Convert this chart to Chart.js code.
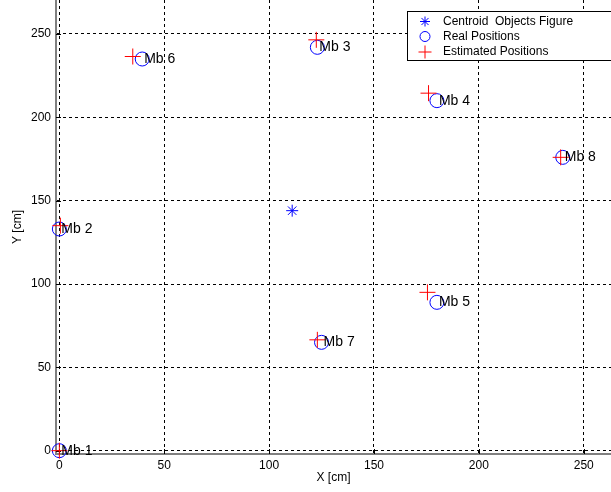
<!DOCTYPE html>
<html>
<head>
<meta charset="utf-8">
<script src="https://cdn.jsdelivr.net/npm/chart.js"></script>
<style>
  html, body { margin: 0; padding: 0; background: #fff; }
  #wrap { width: 611px; height: 492px; }
</style>
</head>
<body>
<div id="wrap"><canvas id="pos-chart" width="611" height="492"></canvas></div>
<script>
// tick values
const xTicks = [0, 50, 100, 150, 200, 250];
const yTicks = [0, 50, 100, 150, 200, 250];

// beacon names, real and estimated positions [cm]
const beacons = ['Mb 1', 'Mb 2', 'Mb 3', 'Mb 4', 'Mb 5', 'Mb 6', 'Mb 7', 'Mb 8'];
const realX = [0, 0, 123, 180, 180, 39.5, 125, 240];
const realY = [0, 133, 242, 210, 89, 235, 65, 176];
const estX = [0, 0.5, 122.5, 176, 175.5, 35, 123, 239];
const estY = [0, 135, 246.5, 214.5, 95, 236.5, 66.5, 176];

// centroid of the objects
const centroidX = [111];
const centroidY = [144];

const legendNames = ['Centroid  Objects Figure', 'Real Positions', 'Estimated Positions'];

const toPoints = (xs, ys) => xs.map((x, i) => ({ x: x, y: ys[i] }));

const FONT = 'Liberation Sans, Arial, sans-serif';

// no extra room for overflowing labels, the plot runs to the edges
const noPad = s => {
  s.paddingLeft = 0;
  s.paddingRight = 0;
  s.paddingTop = 0;
  s.paddingBottom = 0;
};

// text next to each real position
const beaconLabels = {
  id: 'beaconLabels',
  afterDatasetsDraw(chart) {
    const { ctx, scales } = chart;
    ctx.save();
    ctx.font = '14px ' + FONT;
    ctx.fillStyle = '#000';
    ctx.textAlign = 'left';
    ctx.textBaseline = 'middle';
    beacons.forEach((name, i) => {
      const px = scales.x.getPixelForValue(realX[i]) + 2;
      const py = scales.y.getPixelForValue(realY[i]);
      ctx.fillText(name, px, py);
    });
    ctx.restore();
  }
};

// short inward tick marks, matlab style
const innerTicks = {
  id: 'innerTicks',
  beforeDatasetsDraw(chart) {
    const { ctx, scales, chartArea } = chart;
    ctx.save();
    ctx.strokeStyle = '#000';
    ctx.lineWidth = 1;
    ctx.beginPath();
    xTicks.forEach(v => {
      const px = Math.round(scales.x.getPixelForValue(v)) + 0.5;
      ctx.moveTo(px, chartArea.bottom);
      ctx.lineTo(px, chartArea.bottom - 5);
    });
    yTicks.forEach(v => {
      const py = Math.round(scales.y.getPixelForValue(v)) + 0.5;
      ctx.moveTo(chartArea.left, py);
      ctx.lineTo(chartArea.left + 5, py);
    });
    ctx.stroke();
    ctx.restore();
  }
};

// boxed legend in the upper right corner
const boxLegend = {
  id: 'boxLegend',
  afterDraw(chart) {
    const { ctx } = chart;
    const left = 407.5, top = 11.5, h = 49;
    ctx.save();
    ctx.fillStyle = '#fff';
    ctx.fillRect(left, top, 220, h);
    ctx.strokeStyle = '#000';
    ctx.lineWidth = 1;
    ctx.strokeRect(left, top, 220, h);

    const mx = 425;
    const rows = [21.5, 36.5, 52];
    ctx.lineWidth = 1;

    // star
    ctx.strokeStyle = '#0000ff';
    ctx.beginPath();
    const r = 5;
    for (let k = 0; k < 4; k++) {
      const a = k * Math.PI / 4;
      ctx.moveTo(mx - r * Math.cos(a), rows[0] - r * Math.sin(a));
      ctx.lineTo(mx + r * Math.cos(a), rows[0] + r * Math.sin(a));
    }
    ctx.stroke();
    // circle
    ctx.beginPath();
    ctx.arc(mx, rows[1], 5, 0, Math.PI * 2);
    ctx.stroke();
    // cross
    ctx.strokeStyle = '#ff0000';
    ctx.beginPath();
    ctx.moveTo(mx - 6.5, rows[2]); ctx.lineTo(mx + 6.5, rows[2]);
    ctx.moveTo(mx, rows[2] - 6.5); ctx.lineTo(mx, rows[2] + 6.5);
    ctx.stroke();

    ctx.font = '12px ' + FONT;
    ctx.fillStyle = '#000';
    ctx.textAlign = 'left';
    ctx.textBaseline = 'middle';
    legendNames.forEach((t, i) => ctx.fillText(t, 443, rows[i]));
    ctx.restore();
  }
};

const ctx = document.getElementById('pos-chart').getContext('2d');
new Chart(ctx, {
  type: 'scatter',
  data: {
    datasets: [
      {
        label: legendNames[0],
        data: toPoints(centroidX, centroidY),
        pointStyle: 'star',
        radius: 6,
        borderColor: '#0000ff',
        backgroundColor: '#0000ff',
        borderWidth: 1,
        clip: false,
        order: 2
      },
      {
        label: legendNames[1],
        data: toPoints(realX, realY),
        pointStyle: 'circle',
        radius: 7,
        borderColor: '#0000ff',
        backgroundColor: 'rgba(0,0,0,0)',
        borderWidth: 1,
        clip: false,
        order: 1
      },
      {
        label: legendNames[2],
        data: toPoints(estX, estY),
        pointStyle: 'cross',
        radius: 8,
        borderColor: '#ff0000',
        backgroundColor: '#ff0000',
        borderWidth: 1,
        clip: false,
        order: 0
      }
    ]
  },
  options: {
    responsive: false,
    animation: false,
    devicePixelRatio: 1,
    layout: { padding: 0, autoPadding: false },
    plugins: {
      legend: { display: false },
      tooltip: { enabled: false }
    },
    elements: { point: { hoverRadius: 7 } },
    scales: {
      x: {
        type: 'linear',
        min: -1.6,
        max: 263,
        afterFit: s => { s.height = 38; noPad(s); },
        afterBuildTicks: s => { s.ticks = xTicks.map(v => ({ value: v })); },
        grid: { color: '#000', lineWidth: 1, drawTicks: false },
        border: { color: '#808080', width: 2, dash: [3, 3] },
        ticks: { color: '#000', padding: 4, font: { family: FONT, size: 12 } },
        title: {
          display: true,
          text: 'X [cm]',
          color: '#000',
          font: { family: FONT, size: 12 },
          padding: { top: 0, bottom: 7 }
        }
      },
      y: {
        type: 'linear',
        min: -2,
        max: 270.4,
        afterFit: s => { s.width = 56; noPad(s); },
        afterBuildTicks: s => { s.ticks = yTicks.map(v => ({ value: v })); },
        grid: { color: '#000', lineWidth: 1, drawTicks: false },
        border: { color: '#808080', width: 2, dash: [3, 3] },
        ticks: { color: '#000', padding: 5, font: { family: FONT, size: 12 } },
        title: {
          display: true,
          text: 'Y [cm]',
          color: '#000',
          font: { family: FONT, size: 12 },
          padding: { top: 10, bottom: 0 }
        }
      }
    }
  },
  plugins: [innerTicks, beaconLabels, boxLegend]
});
</script>
</body>
</html>
